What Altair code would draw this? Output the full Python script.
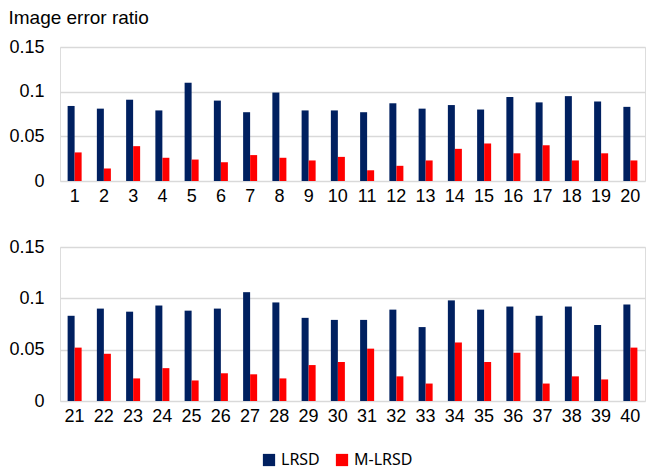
import altair as alt
import pandas as pd

images = list(range(1, 41))
lrsd = [0.084, 0.081, 0.091, 0.079, 0.110, 0.090, 0.077, 0.099, 0.079, 0.079,
        0.077, 0.087, 0.081, 0.085, 0.080, 0.094, 0.088, 0.095, 0.089, 0.083,
        0.083, 0.090, 0.087, 0.093, 0.088, 0.090, 0.106, 0.096, 0.081, 0.079,
        0.079, 0.089, 0.072, 0.098, 0.089, 0.092, 0.083, 0.092, 0.074, 0.094]
mlrsd = [0.032, 0.014, 0.039, 0.026, 0.024, 0.021, 0.029, 0.026, 0.023, 0.027,
         0.012, 0.017, 0.023, 0.036, 0.042, 0.031, 0.040, 0.023, 0.031, 0.023,
         0.052, 0.046, 0.022, 0.032, 0.020, 0.027, 0.026, 0.022, 0.035, 0.038,
         0.051, 0.024, 0.017, 0.057, 0.038, 0.047, 0.017, 0.024, 0.021, 0.052]
series = ["LRSD", "M-LRSD"]
colors = ["#002060", "#FF0000"]

rows = []
for i, img in enumerate(images):
    for s, vals in zip(series, [lrsd, mlrsd]):
        rows.append({"image": str(img), "series": s, "value": vals[i],
                     "panel": 1 if img <= 20 else 2})
df = pd.DataFrame(rows)

FONT = "Liberation Sans"


def panel(p, h):
    d = df[df.panel == p]
    order = [str(i) for i in images if (i <= 20) == (p == 1)]
    return alt.Chart(d).mark_bar(size=7).encode(
        x=alt.X("image:N", sort=order, title=None,
                scale=alt.Scale(paddingInner=0.52, paddingOuter=0.26),
                axis=alt.Axis(labelAngle=0, labelFontSize=18, labelFont=FONT,
                              labelColor="#000", ticks=False, domain=False,
                              labelPadding=6)),
        xOffset=alt.XOffset("series:N", sort=series),
        y=alt.Y("value:Q", title=None,
                scale=alt.Scale(domain=[0, 0.15], nice=False),
                axis=alt.Axis(values=[0, 0.05, 0.1, 0.15], format=".2~f",
                              labelFontSize=18, labelFont=FONT, labelColor="#000",
                              ticks=False, domain=False, labelPadding=16,
                              gridColor="#d9d9d9", gridWidth=1.5)),
        color=alt.Color("series:N", sort=series,
                        scale=alt.Scale(domain=series, range=colors),
                        legend=alt.Legend(title=None, orient="none",
                                          legendX=201, legendY=405,
                                          direction="horizontal",
                                          symbolType="square", symbolSize=150,
                                          labelFontSize=16, labelFont="Noto Sans",
                                          labelColor="#000", columnPadding=14)),
    ).properties(width=585, height=h)


chart = alt.vconcat(panel(1, 134), panel(2, 154), spacing=31).properties(
    padding={"left": 0, "top": 0, "right": 0, "bottom": 20},
    title=alt.Title("Image error ratio", anchor="start", fontSize=19,
                    font=FONT, fontWeight="normal", color="#000", offset=10)
).configure_view(stroke=None).configure(background="white")

chart.save("out.html", embed_options={"renderer": "svg", "actions": False})
